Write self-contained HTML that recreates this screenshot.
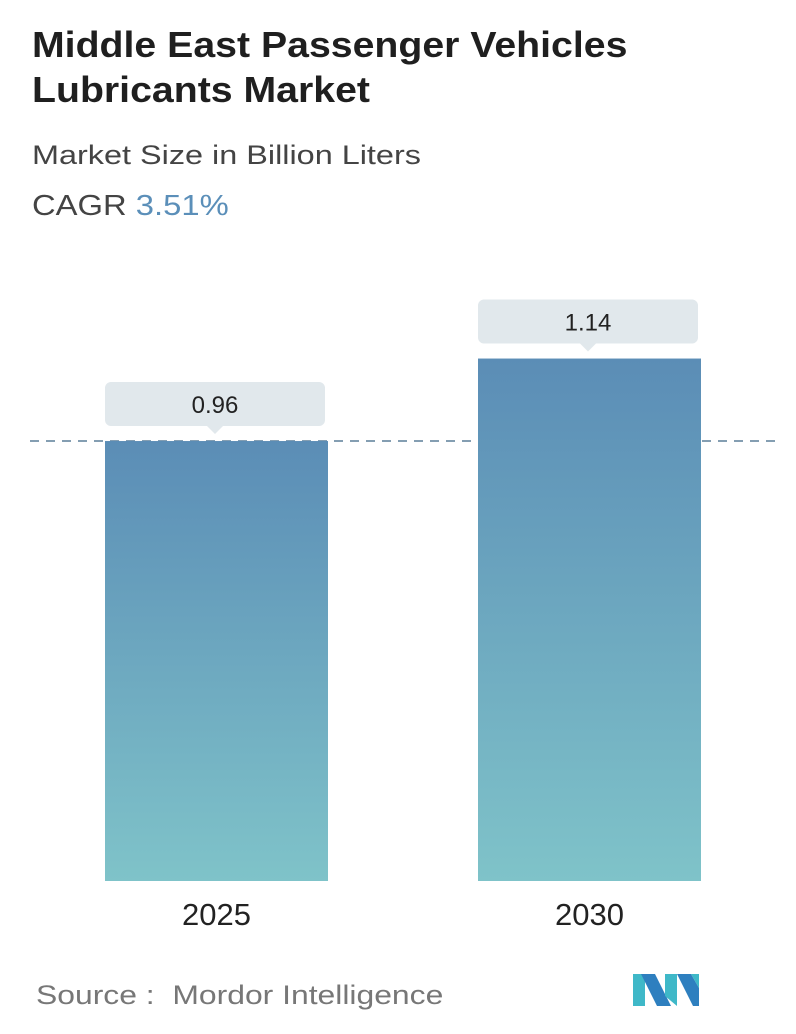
<!DOCTYPE html>
<html><head><meta charset="utf-8"><style>
body{margin:0;width:796px;height:1034px;background:#fff;font-family:"Liberation Sans","DejaVu Sans",sans-serif;position:relative;overflow:hidden}
.t{position:absolute;left:32px;color:#222;transform-origin:0 0;white-space:nowrap}
</style></head><body>
<div class="t" style="top:22px;font-size:36px;font-weight:bold;line-height:45px;color:#1f1f1f;transform:scaleX(1.09)">Middle East Passenger Vehicles<br>Lubricants Market</div>
<div class="t" style="top:140px;font-size:27px;color:#444;transform:scaleX(1.2)">Market Size in Billion Liters</div>
<div class="t" style="top:190px;font-size:29px;color:#444;transform:scaleX(1.13)">CAGR <span style="color:#5b8fb9">3.51%</span></div>
<svg id="chart" width="796" height="1034" style="position:absolute;left:0;top:0">
<defs><linearGradient id="g" x1="0" y1="0" x2="0" y2="1"><stop offset="0" stop-color="#5b8db6"/><stop offset="1" stop-color="#7fc3c9"/></linearGradient></defs>
</svg>
<div class="t" style="top:980px;left:36px;font-size:27px;color:#777;transform:scaleX(1.18)">Source :&nbsp; Mordor Intelligence</div>
<svg width="70" height="36" style="position:absolute;left:633px;top:972px">
<polygon points="0,2 12,2 12,34 0,34" fill="#3fb8c8"/>
<polygon points="8,2 22,2 38,34 24,34" fill="#2e7fbf"/>
<polygon points="32,2 44,2 44,34 32,24" fill="#3fb8c8"/>
<polygon points="44,2 58,2 66,16 66,34 60,34" fill="#2e7fbf"/>
<polygon points="58,2 66,2 66,16" fill="#3fb8c8"/>
</svg>
<script>
const categories=["2025","2030"];
const values=[0.96,1.14];
const labels=["0.96","1.14"];
const svg=document.getElementById('chart');
const NS='http://www.w3.org/2000/svg';
const base=881, scale=458.3;
const y=v=>base-v*scale;
const xs=[105,478], bw=223;
function mk(t,a){const e=document.createElementNS(NS,t);for(const k in a)e.setAttribute(k,a[k]);svg.appendChild(e);return e;}
const dl=mk('line',{x1:30,x2:780,y1:y(values[0]),y2:y(values[0]),stroke:'#5b7f99','stroke-width':1.5,'stroke-dasharray':'9,7'});


categories.forEach((c,i)=>{
  const x=xs[i], top=y(values[i]);
  const r=mk('rect',{x:x,y:top,width:bw,height:base-top,fill:'url(#g)'});
  
  
  const bt=top-59, bx=x, bW=bw-3;
  const p=mk('path',{d:`M${bx+6},${bt} h${bW-12} a6,6 0 0 1 6,6 v32 a6,6 0 0 1 -6,6 H${bx+bW/2+8} l-8,8 l-8,-8 H${bx+6} a6,6 0 0 1 -6,-6 v-32 a6,6 0 0 1 6,-6z`,fill:'#e1e8ec'});
  
  
  const t=mk('text',{x:bx+bW/2,y:bt+31,'text-anchor':'middle','font-size':24,fill:'#222','font-family':'Liberation Sans, sans-serif'});
  t.textContent=labels[i];
  
  
  const xl=mk('text',{x:x+bw/2,y:925,'text-anchor':'middle','font-size':31,fill:'#222','font-family':'Liberation Sans, sans-serif'});
  xl.textContent=c;
  
  
});
</script>
</body></html>
